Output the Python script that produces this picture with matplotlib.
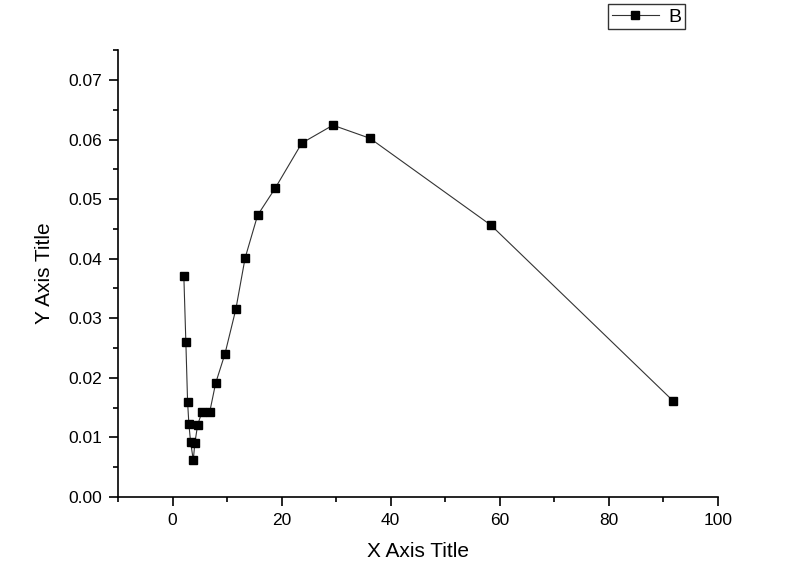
#!/usr/bin/env python3
"""Origin-style scatter/line plot of series B."""

import matplotlib.pyplot as plt
from matplotlib.ticker import MultipleLocator

x_vals = [2.07, 2.44, 2.76, 3.0, 3.3, 3.8, 4.1, 4.6, 5.4, 6.8, 7.9, 9.6,
          11.6, 13.3, 15.6, 18.8, 23.7, 29.4, 36.2, 58.4, 91.8]
y_vals = [0.0371, 0.0260, 0.0159, 0.0122, 0.0093, 0.0062, 0.0091, 0.0121,
          0.0143, 0.0142, 0.0191, 0.0240, 0.0315, 0.0401, 0.0473, 0.0518,
          0.0594, 0.0624, 0.0602, 0.0456, 0.0161]
series_name = 'B'

plt.rcParams['font.family'] = ['Liberation Sans', 'DejaVu Sans']

fig = plt.figure(figsize=(8, 5.83), dpi=100)
ax = fig.add_axes([0.1475, 0.1475, 0.75, 0.7665])

ax.plot(x_vals, y_vals, color='#333333', linewidth=0.8, marker='s',
        markersize=6, markerfacecolor='black', markeredgecolor='black',
        label=series_name)

ax.set_xlim(-10, 100)
ax.set_ylim(0, 0.075)
ax.xaxis.set_major_locator(MultipleLocator(20))
ax.xaxis.set_minor_locator(MultipleLocator(10))
ax.yaxis.set_major_locator(MultipleLocator(0.01))
ax.yaxis.set_minor_locator(MultipleLocator(0.005))
ax.yaxis.set_major_formatter(plt.FormatStrFormatter('%.2f'))

for side in ['top', 'right']:
  ax.spines[side].set_visible(False)
for side in ['left', 'bottom']:
  ax.spines[side].set_linewidth(1.2)

ax.tick_params(which='major', direction='out', length=6.5, width=1.2,
               labelsize=12.5, pad=5)
ax.tick_params(which='minor', direction='out', length=3.5, width=1.2)

ax.set_xlabel('X Axis Title', fontsize=15, labelpad=10)
ax.set_ylabel('Y Axis Title', fontsize=15, labelpad=10)

leg = fig.legend(loc='upper left', bbox_to_anchor=(608 / 800, 1 - 4 / 583),
                 frameon=True, fancybox=False, fontsize=14,
                 handlelength=2.4, borderpad=0.2, handletextpad=0.5,
                 borderaxespad=0)
leg.get_frame().set_edgecolor('black')
leg.get_frame().set_linewidth(1.0)

fig.savefig('out.png', dpi=100)
